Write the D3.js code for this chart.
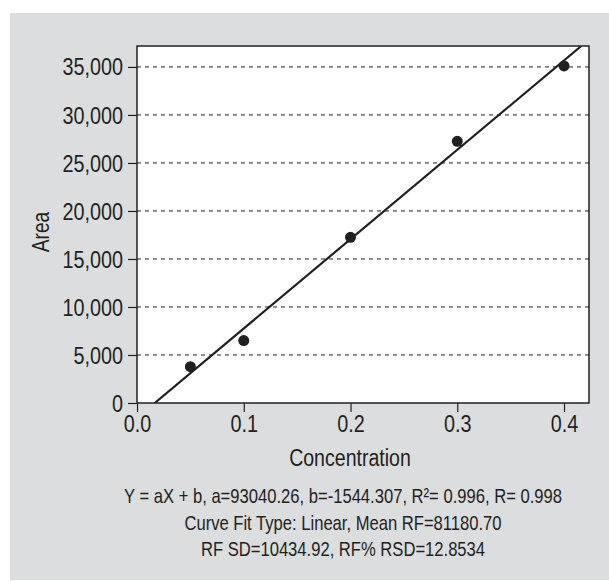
<!DOCTYPE html>
<html>
<head>
<meta charset="utf-8">
<script src="https://cdn.jsdelivr.net/npm/d3@7"></script>
<style>
  body { margin: 0; background: #fff; }
  text { font-family: "Liberation Sans", Arial, sans-serif; fill: #231f20; }
</style>
</head>
<body>
<svg id="chart" width="609" height="581"></svg>
<script>
// calibration data
const concentration = [0.05, 0.1, 0.2, 0.3, 0.4];
const area = [3780, 6500, 17250, 27250, 35100];
const fitA = 93040.26, fitB = -1544.307;
const yTicks = [0, 5000, 10000, 15000, 20000, 25000, 30000, 35000];
const xTicks = [0.0, 0.1, 0.2, 0.3, 0.4];
const notes = [
    "Y = aX + b, a=93040.26, b=-1544.307, R\u00B2= 0.996, R= 0.998",
    "Curve Fit Type: Linear, Mean RF=81180.70",
    "RF SD=10434.92, RF% RSD=12.8534"
];

const svg = d3.select("#chart");
const fontFam = "'Liberation Sans', Arial, sans-serif";

// the original uses a narrow face; squeeze the regular one to match
function condense(sel, k) {
    sel.each(function () {
        let w = this.getComputedTextLength();
        d3.select(this).attr("textLength", w * k).attr("lengthAdjust", "spacingAndGlyphs");
    });
}

// grey panel
svg.append("rect")
    .attr("x", 10).attr("y", 13)
    .attr("width", 599).attr("height", 567)
    .attr("fill", "#dcdddf");

const plotL = 137, plotR = 589, plotT = 46, plotB = 403;

let x = d3.scaleLinear().domain([0, 0.4234]).range([plotL, plotR]);
let y = d3.scaleLinear().domain([0, 37180]).range([plotB, plotT]);

// plot area
svg.append("rect")
    .attr("x", plotL).attr("y", plotT)
    .attr("width", plotR - plotL).attr("height", plotB - plotT)
    .attr("fill", "#fff");

// dashed grid
svg.append("g")
    .selectAll("line")
    .data(yTicks.filter(d => d > 0))
    .join("line")
    .attr("x1", plotL).attr("x2", plotR)
    .attr("y1", d => y(d)).attr("y2", d => y(d))
    .attr("stroke", "#231f20")
    .attr("stroke-width", 1)
    .attr("stroke-dasharray", "4,4");

// axes
let yAxis = svg.append("g")
    .attr("transform", `translate(${plotL},0)`)
    .call(d3.axisLeft(y).tickValues(yTicks).tickFormat(d3.format(",")).tickSize(9).tickPadding(5));
let xAxis = svg.append("g")
    .attr("transform", `translate(0,${plotB})`)
    .call(d3.axisBottom(x).tickValues(xTicks).tickFormat(d3.format(".1f")).tickSize(9).tickPadding(4));

[yAxis, xAxis].forEach(g => {
    g.select(".domain").remove();
    g.selectAll("line").attr("stroke", "#231f20").attr("stroke-width", 1.2);
    g.selectAll("text").attr("font-size", 23).attr("fill", "#231f20")
        .attr("font-family", fontFam)
        .call(condense, 0.86);
});
yAxis.selectAll("text").attr("dy", "0.35em");

// frame
svg.append("rect")
    .attr("x", plotL).attr("y", plotT)
    .attr("width", plotR - plotL).attr("height", plotB - plotT)
    .attr("fill", "none")
    .attr("stroke", "#231f20")
    .attr("stroke-width", 1.5);

// fitted line, clipped to plot
svg.append("clipPath").attr("id", "clip")
    .append("rect")
    .attr("x", plotL).attr("y", plotT)
    .attr("width", plotR - plotL).attr("height", plotB - plotT);

let x0 = -fitB / fitA;
let x1 = (y.domain()[1] - fitB) / fitA;
svg.append("line")
    .attr("clip-path", "url(#clip)")
    .attr("x1", x(x0)).attr("y1", y(0))
    .attr("x2", x(x1)).attr("y2", y(fitA * x1 + fitB))
    .attr("stroke", "#231f20")
    .attr("stroke-width", 2.2);

// points
svg.append("g")
    .selectAll("circle")
    .data(concentration)
    .join("circle")
    .attr("cx", d => x(d))
    .attr("cy", (d, i) => y(area[i]))
    .attr("r", 5.5)
    .attr("fill", "#231f20");

// axis titles
svg.append("text")
    .attr("x", 350)
    .attr("y", 466)
    .attr("text-anchor", "middle")
    .attr("font-size", 23)
    .text("Concentration")
    .call(condense, 0.85);

svg.append("text")
    .attr("transform", "translate(49,232) rotate(-90)")
    .attr("text-anchor", "middle")
    .attr("font-size", 23)
    .text("Area")
    .call(condense, 0.83);

// fit summary, squeezed with a transform so the box stays inside the page
svg.append("g")
    .selectAll("g")
    .data(notes)
    .join("g")
    .attr("transform", (d, i) => `translate(343,${503 + i * 26.5}) scale(0.81,1)`)
    .append("text")
    .attr("text-anchor", "middle")
    .attr("font-size", 20.5)
    .text(d => d);
</script>
</body>
</html>
